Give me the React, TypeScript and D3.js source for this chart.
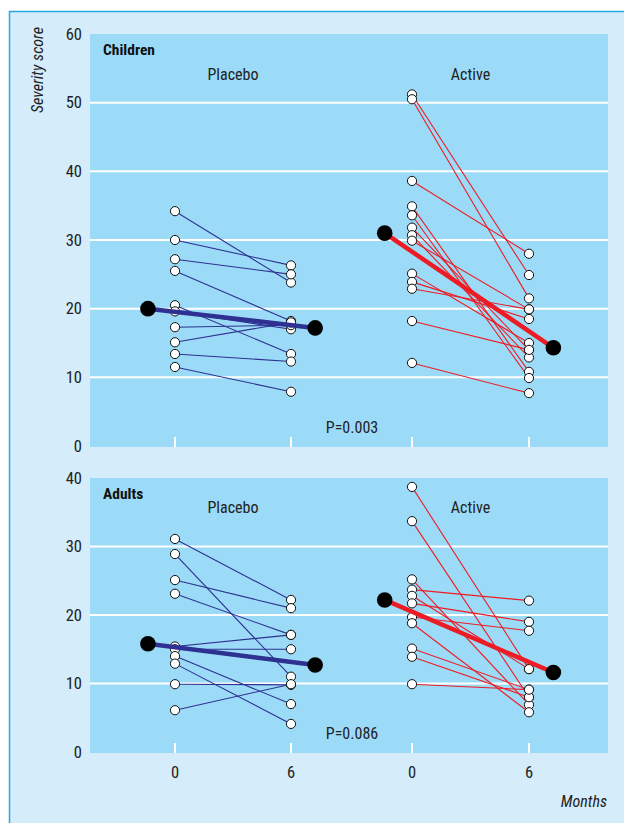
import React from "react";
import * as d3 from "d3";

// ---- Data ----
const monthTicks = [0, 6];
const childrenTicks = [0, 10, 20, 30, 40, 50, 60];
const adultTicks = [0, 10, 20, 30, 40];

const childPlaceboBefore = [34.2, 30.0, 27.2, 25.5, 20.5, 19.6, 17.3, 15.1, 13.4, 11.5];
const childPlaceboAfter = [23.8, 26.3, 25.0, 18.2, 13.4, 17.0, 17.6, 18.0, 12.3, 7.9];
const childPlaceboMean = [20.0, 17.2];

const childActiveBefore = [51.2, 50.5, 38.6, 34.9, 33.6, 31.8, 30.7, 29.9, 25.1, 23.9, 22.9, 18.2, 12.1];
const childActiveAfter = [24.9, 21.5, 28.0, 10.8, 9.9, 14.0, 12.9, 19.9, 15.0, 18.5, 19.9, 14.0, 7.7];
const childActiveMean = [31.0, 14.3];

const adultPlaceboBefore = [31.1, 28.9, 25.1, 23.1, 15.4, 15.0, 14.0, 12.9, 9.9, 6.1];
const adultPlaceboAfter = [22.2, 11.0, 21.0, 17.1, 17.1, 15.0, 7.0, 4.1, 9.8, 9.9];
const adultPlaceboMean = [15.8, 12.7];

const adultActiveBefore = [38.7, 33.7, 25.2, 23.7, 22.8, 21.7, 19.7, 18.8, 15.1, 13.9, 9.9];
const adultActiveAfter = [12.1, 8.0, 6.9, 22.1, 12.1, 19.0, 17.7, 5.8, 9.1, 8.0, 9.1];
const adultActiveMean = [22.2, 11.6];

const meanMonths = [-1.4, 7.25];

// ---- Style ----
const FONT = "'Liberation Sans Narrow', 'Arial Narrow', 'Roboto Condensed', 'Liberation Sans', sans-serif";
const OUTER_BG = "#d5ecfa";
const PANEL_BG = "#9cdbf7";
const BLUE = "#2e3192";
const RED = "#ed1c24";

type Group = {
  label: string;
  before: number[];
  after: number[];
  mean: number[];
  color: string;
  x: d3.ScaleLinear<number, number>;
};

const xPlacebo = d3.scaleLinear().domain([0, 6]).range([175, 291]);
const xActive = d3.scaleLinear().domain([0, 6]).range([412, 529]);

function Panel({
  title,
  y,
  ticks,
  groups,
  pLabel,
  labelY,
}: {
  title: string;
  y: d3.ScaleLinear<number, number>;
  ticks: number[];
  groups: Group[];
  pLabel: string;
  labelY: number;
}) {
  const [y0, y1] = y.range();
  const top = Math.min(y0, y1);
  const bottom = Math.max(y0, y1) + 1;
  const left = 90;
  const right = 608;
  const maxV = d3.max(ticks) as number;
  return (
    <g>
      <rect x={left} y={top} width={right - left} height={bottom - top} fill={PANEL_BG} />
      {ticks
        .filter((t) => t > 0 && t < maxV)
        .map((t) => (
          <line key={t} x1={left} x2={right} y1={y(t)} y2={y(t)} stroke="#fff" strokeWidth={2} />
        ))}
      {ticks.map((t) => (
        <text
          key={"l" + t}
          x={82}
          y={y(t)}
          textAnchor="end"
          dominantBaseline="central"
          fontSize={16.5}
          fontFamily={FONT}
          fill="#222"
        >
          {t}
        </text>
      ))}
      {groups.map((g) =>
        monthTicks.map((m) => (
          <line
            key={g.label + m}
            x1={g.x(m)}
            x2={g.x(m)}
            y1={bottom - 10}
            y2={bottom}
            stroke="#fff"
            strokeWidth={2}
          />
        ))
      )}
      <text x={103} y={top + 21} fontSize={15.5} fontWeight="bold" fontFamily={FONT} fill="#111">
        {title}
      </text>
      {groups.map((g) => (
        <text
          key={"t" + g.label}
          x={(g.x(0) + g.x(6)) / 2}
          y={labelY}
          textAnchor="middle"
          fontSize={16}
          fontFamily={FONT}
          fill="#222"
        >
          {g.label}
        </text>
      ))}
      {groups.map((g) => (
        <g key={"g" + g.label}>
          {g.before.map((b, i) => (
            <line
              key={"s" + i}
              x1={g.x(0)}
              y1={y(b)}
              x2={g.x(6)}
              y2={y(g.after[i])}
              stroke={g.color}
              strokeWidth={1.1}
            />
          ))}
          {g.before.map((b, i) => (
            <circle key={"b" + i} cx={g.x(0)} cy={y(b)} r={4.6} fill="#fff" stroke="#111" strokeWidth={1} />
          ))}
          {g.after.map((a, i) => (
            <circle key={"a" + i} cx={g.x(6)} cy={y(a)} r={4.6} fill="#fff" stroke="#111" strokeWidth={1} />
          ))}
          <line
            x1={g.x(meanMonths[0])}
            y1={y(g.mean[0])}
            x2={g.x(meanMonths[1])}
            y2={y(g.mean[1])}
            stroke={g.color}
            strokeWidth={4.5}
          />
          {g.mean.map((mv, i) => (
            <circle key={"m" + i} cx={g.x(meanMonths[i])} cy={y(mv)} r={7.8} fill="#000" />
          ))}
        </g>
      ))}
      <text
        x={352}
        y={bottom - 14}
        textAnchor="middle"
        fontSize={16}
        fontFamily={FONT}
        fill="#222"
      >
        {pLabel}
      </text>
    </g>
  );
}

export default function App() {
  const yTop = d3.scaleLinear().domain([0, 60]).range([446, 34]);
  const yBot = d3.scaleLinear().domain([0, 40]).range([752, 478]);

  const childGroups: Group[] = [
    { label: "Placebo", before: childPlaceboBefore, after: childPlaceboAfter, mean: childPlaceboMean, color: BLUE, x: xPlacebo },
    { label: "Active", before: childActiveBefore, after: childActiveAfter, mean: childActiveMean, color: RED, x: xActive },
  ];
  const adultGroups: Group[] = [
    { label: "Placebo", before: adultPlaceboBefore, after: adultPlaceboAfter, mean: adultPlaceboMean, color: BLUE, x: xPlacebo },
    { label: "Active", before: adultActiveBefore, after: adultActiveAfter, mean: adultActiveMean, color: RED, x: xActive },
  ];

  return (
    <svg
      width={624}
      height={823}
      style={{ position: "absolute", left: 0, top: 0, display: "block" }}
    >
      <rect x={9} y={11} width={615} height={812} fill={OUTER_BG} />
      <line x1={9} x2={624} y1={11.5} y2={11.5} stroke="#2aa9e0" strokeWidth={1.5} />
      <line x1={9.5} x2={9.5} y1={11} y2={823} stroke="#2aa9e0" strokeWidth={1.5} />
      <text
        transform="translate(43,70) rotate(-90)"
        textAnchor="middle"
        fontSize={16}
        fontStyle="italic"
        fontFamily={FONT}
        fill="#222"
      >
        Severity score
      </text>
      <Panel title="Children" y={yTop} ticks={childrenTicks} groups={childGroups} pLabel="P=0.003" labelY={80} />
      <Panel title="Adults" y={yBot} ticks={adultTicks} groups={adultGroups} pLabel="P=0.086" labelY={513} />
      {[...childGroups].map((g) =>
        monthTicks.map((m) => (
          <text
            key={"x" + g.label + m}
            x={g.x(m)}
            y={778}
            textAnchor="middle"
            fontSize={16.5}
            fontFamily={FONT}
            fill="#222"
          >
            {m}
          </text>
        ))
      )}
      <text x={607} y={807} textAnchor="end" fontSize={16} fontStyle="italic" fontFamily={FONT} fill="#222">
        Months
      </text>
    </svg>
  );
}
